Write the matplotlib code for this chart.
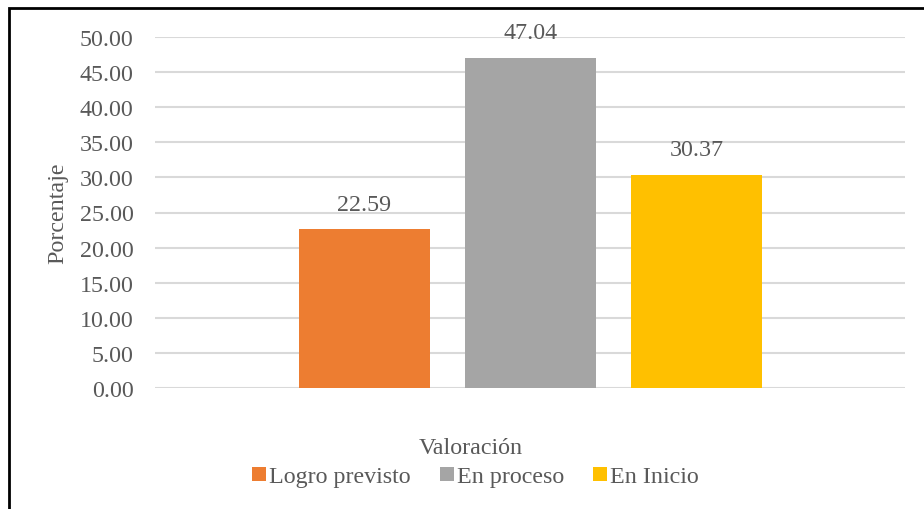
import numpy as np
import matplotlib
matplotlib.use('Agg')
import matplotlib.pyplot as plt
from matplotlib.patches import Rectangle

# Data
categories = ['Logro previsto', 'En proceso', 'En Inicio']
values = [22.59, 47.04, 30.37]
colors = ['#ED7D31', '#A5A5A5', '#FFC000']
yticks = np.arange(0, 50.01, 5)

plt.rcParams['font.family'] = ['Liberation Serif', 'DejaVu Serif']
text_col = '#595959'
fs = 17.3

fig = plt.figure(figsize=(9.24, 5.10), dpi=100)
ax = fig.add_axes([155/924, 1 - 389/510, 750/924, 351/510])

x = np.arange(len(values))
bars = ax.bar(x, values, width=0.795, color=colors, zorder=3)

# data labels above bars
for xi, v in zip(x, values):
    ax.annotate(f'{v:.2f}', (xi, v), xytext=(0, 10.5), textcoords='offset points',
                ha='center', va='bottom', fontsize=fs, color=text_col)

ax.set_xlim(-1.262, 3.256)
ax.set_ylim(0, 50)
ax.set_yticks(yticks)
ax.set_yticklabels([f'{t:.2f}' for t in yticks], fontsize=fs, color=text_col)
ax.set_xticks([])
ax.tick_params(axis='y', length=0, pad=15.5)
ax.grid(axis='y', color='#D9D9D9', linewidth=1.5, zorder=0)
for s in ax.spines.values():
    s.set_visible(False)

fig.text(58/924, 1 - 213/510, 'Porcentaje', rotation=90, ha='center', va='center',
         fontsize=fs, color=text_col)
fig.text(471/924, 1 - 449/510, 'Valoración', ha='center', va='center',
         fontsize=fs, color=text_col)

fig.legend(bars, categories, loc='center', bbox_to_anchor=(475.5/924, 1 - 478/510),
           ncol=3, frameon=False, fontsize=fs, handlelength=0.6, handleheight=0.55,
           handletextpad=0.12, columnspacing=1.2, labelcolor=text_col,
           borderpad=0, borderaxespad=0)

# chart border (only top and left edges fall inside the image)
fig.patches.append(Rectangle((8.5/924, -0.05), 1.1, (1 - 8.5/510) + 0.05,
                             transform=fig.transFigure, fill=False,
                             edgecolor='black', linewidth=2, zorder=10))

fig.savefig('out.png', dpi=100)
